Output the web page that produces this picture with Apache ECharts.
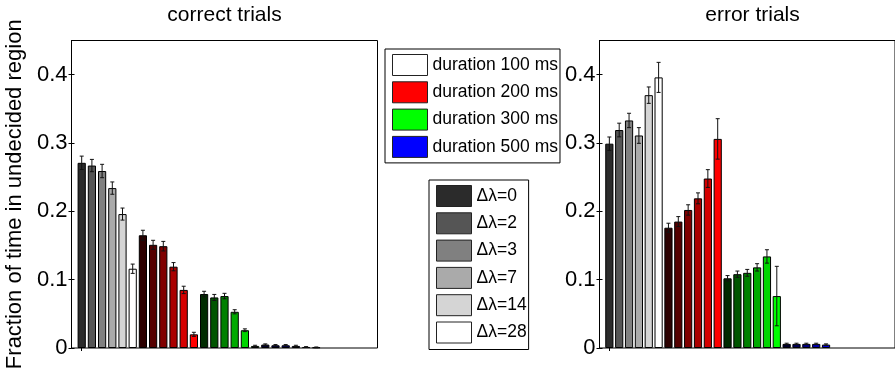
<!DOCTYPE html>
<html>
<head>
<meta charset="utf-8">
<script src="https://cdn.jsdelivr.net/npm/echarts@6/dist/echarts.min.js"></script>
<style>
  html, body { margin: 0; padding: 0; background: #fff; }
  #chart { width: 895px; height: 376px; }
</style>
</head>
<body>
<div id="chart"></div>
<script>
// Fraction of time spent in the undecided region, by stimulus duration and Δλ
const durations = ['100', '200', '300', '500'];
const deltaLambda = ['0', '2', '3', '7', '14', '28'];
const panelTitles = ['correct trials', 'error trials'];
const yTicks = [0, 0.1, 0.2, 0.3, 0.4];

// bar order: duration groups of six, Δλ = 0, 2, 3, 7, 14, 28 inside each group
const correctMean = [
  0.271, 0.267, 0.259, 0.234, 0.196, 0.116,
  0.165, 0.151, 0.149, 0.119, 0.085, 0.020,
  0.079, 0.074, 0.076, 0.053, 0.026, 0.003,
  0.005, 0.004, 0.004, 0.003, 0.0015, 0.001
];
const correctErr = [
  0.0098, 0.009, 0.0098, 0.009, 0.0088, 0.0068,
  0.0073, 0.0066, 0.007, 0.006, 0.0054, 0.003,
  0.004, 0.0044, 0.004, 0.003, 0.002, 0.001,
  0.001, 0.001, 0.001, 0.001, 0.0005, 0.0005
];
const errorMean = [
  0.299, 0.319, 0.333, 0.311, 0.370, 0.396,
  0.176, 0.185, 0.202, 0.219, 0.248, 0.306,
  0.102, 0.108, 0.110, 0.118, 0.134, 0.076,
  0.006, 0.006, 0.006, 0.006, 0.005, null
];
const errorErr = [
  0.0098, 0.010, 0.0105, 0.0115, 0.012, 0.022,
  0.0066, 0.0073, 0.0076, 0.008, 0.013, 0.0296,
  0.004, 0.0046, 0.005, 0.0054, 0.0098, 0.0435,
  0.001, 0.001, 0.001, 0.001, 0.001, null
];

const FONT = '"Liberation Sans", Arial, Helvetica, sans-serif';
const Y_MAX = 0.45;
const X_MAX = 30;

// shade k (0..5) of a base hue: 1/6 .. 6/6 of full intensity
function shade(group, k) {
  const v = Math.round(255 * (k + 1) / 6);
  if (group === 0) return `rgb(${v},${v},${v})`;
  if (group === 1) return `rgb(${v},0,0)`;
  if (group === 2) return `rgb(0,${v},0)`;
  return `rgb(0,0,${v})`;
}

function barData(means) {
  return means.map((m, i) => ({
    value: [i + 1, m == null ? '-' : m],
    itemStyle: { color: shade(Math.floor(i / 6), i % 6) }
  }));
}

function errData(means, errs) {
  const out = [];
  means.forEach((m, i) => {
    if (m == null || errs[i] == null) return;
    out.push([i + 1, m - errs[i], m + errs[i]]);
  });
  return out;
}

function renderErr(params, api) {
  const x = api.value(0);
  const top = api.coord([x, api.value(2)]);
  const bot = api.coord([x, api.value(1)]);
  const cap = 2;
  const st = { stroke: '#111', lineWidth: 1 };
  return {
    type: 'group',
    children: [
      { type: 'line', shape: { x1: top[0], y1: top[1], x2: bot[0], y2: bot[1] }, style: st },
      { type: 'line', shape: { x1: top[0] - cap, y1: top[1], x2: top[0] + cap, y2: top[1] }, style: st },
      { type: 'line', shape: { x1: bot[0] - cap, y1: bot[1], x2: bot[0] + cap, y2: bot[1] }, style: st }
    ]
  };
}

const grids = [
  { left: 71.5, top: 40.5, width: 306, height: 307.5, show: true, borderColor: '#000', borderWidth: 1, backgroundColor: '#fff' },
  { left: 599.5, top: 40.5, width: 306, height: 307.5, show: true, borderColor: '#000', borderWidth: 1, backgroundColor: '#fff' }
];

const xAxes = [];
const yAxes = [];
[0, 1].forEach(g => {
  ['bottom', 'top'].forEach(pos => {
    xAxes.push({
      type: 'value', gridIndex: g, position: pos, min: 0, max: X_MAX,
      axisLine: { show: false },
      axisTick: { show: pos === 'top', inside: true, length: 3, customValues: [1], lineStyle: { color: '#000' } },
      axisLabel: { show: false },
      splitLine: { show: false }
    });
  });
  ['left', 'right'].forEach(pos => {
    yAxes.push({
      type: 'value', gridIndex: g, position: pos, min: 0, max: Y_MAX, interval: 0.1,
      name: (g === 0 && pos === 'left') ? 'Fraction of time in undecided region' : '',
      nameLocation: 'middle', nameRotate: 90, nameGap: 46,
      nameTextStyle: { fontFamily: FONT, fontSize: 22, color: '#000' },
      axisLine: { show: true, lineStyle: { color: '#000', width: 1 } },
      axisTick: { show: true, inside: true, length: 3, customValues: yTicks, lineStyle: { color: '#000' } },
      axisLabel: {
        show: pos === 'left', customValues: yTicks, margin: 4,
        fontFamily: FONT, fontSize: 22, color: '#000',
        formatter: v => String(Math.round(v * 10) / 10)
      },
      splitLine: { show: false }
    });
  });
});

const series = [];
[[correctMean, correctErr], [errorMean, errorErr]].forEach(([m, e], g) => {
  series.push({
    type: 'bar', xAxisIndex: g * 2, yAxisIndex: g * 2,
    barWidth: 8.2, data: barData(m),
    itemStyle: { borderColor: '#000', borderWidth: 1 },
    emphasis: { disabled: true }, silent: true
  });
  series.push({
    type: 'custom', xAxisIndex: g * 2, yAxisIndex: g * 2,
    renderItem: renderErr, data: errData(m, e),
    encode: { x: 0, y: [1, 2] }, z: 5, silent: true
  });
});

// legend entries (no marks of their own)
const durationNames = durations.map(d => 'duration ' + d + ' ms');
const durationColors = [0, 1, 2, 3].map(g => (g === 0 ? '#ffffff' : shade(g, 5)));
durationNames.forEach((n, i) => series.push({
  type: 'scatter', name: n, data: [], xAxisIndex: 0, yAxisIndex: 0,
  itemStyle: { color: durationColors[i], borderColor: '#000', borderWidth: 1, opacity: 1 }
}));
const lambdaNames = deltaLambda.map(d => 'Δλ=' + d);
lambdaNames.forEach((n, i) => series.push({
  type: 'scatter', name: n, data: [], xAxisIndex: 0, yAxisIndex: 0,
  itemStyle: { color: shade(0, i), borderColor: '#000', borderWidth: 1, opacity: 1 }
}));

const legendCommon = {
  orient: 'vertical', icon: 'rect', itemWidth: 35, itemHeight: 21, itemGap: 5.3,
  selectedMode: false, backgroundColor: '#fff',
  borderColor: '#000', borderWidth: 1,
  itemStyle: { borderColor: '#222', borderWidth: 1, opacity: 1 },
  textStyle: { fontFamily: FONT, fontSize: 17.5, color: '#000' }
};

const option = {
  animation: false,
  backgroundColor: '#fff',
  title: [
    { text: panelTitles[0], left: 224.5, top: 5, textAlign: 'center', padding: 0,
      textStyle: { fontFamily: FONT, fontSize: 21, fontWeight: 'normal', color: '#000' } },
    { text: panelTitles[1], left: 752.5, top: 5, textAlign: 'center', padding: 0,
      textStyle: { fontFamily: FONT, fontSize: 21, fontWeight: 'normal', color: '#000' } }
  ],
  grid: grids,
  xAxis: xAxes,
  yAxis: yAxes,
  legend: [
    Object.assign({}, legendCommon, { data: durationNames, left: 385, top: 49, padding: [5, 2, 5, 7] }),
    Object.assign({}, legendCommon, { data: lambdaNames, left: 429, top: 180, padding: [5, 2, 6, 7] })
  ],
  series: series
};

const chart = echarts.init(document.getElementById('chart'), null, { renderer: 'canvas' });
chart.setOption(option);
</script>
</body>
</html>
